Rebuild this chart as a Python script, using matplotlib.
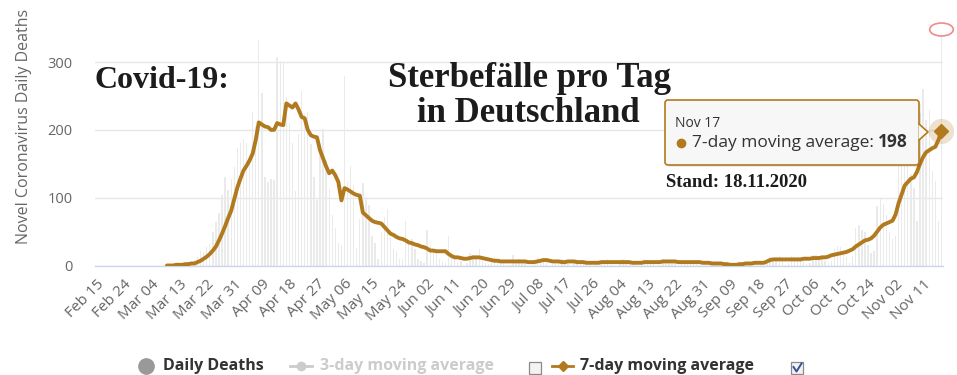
import numpy as np
import pandas as pd
import matplotlib.pyplot as plt
from matplotlib.patches import FancyBboxPatch, Polygon, Rectangle
from matplotlib.path import Path
from matplotlib.transforms import Affine2D

# --------------------------
# Data (Germany, Feb 15 - Nov 17 2020)
# --------------------------
dates = pd.date_range("2020-02-15", "2020-11-17")

# Feb 15 - Mar 8: no deaths
lead_zeros = [0] * 23

# daily deaths, one row per week starting Monday Mar 9
daily_rows = [
    [2, 0, 1, 1, 3, 2, 4],
    [4, 3, 8, 12, 21, 20, 28],
    [31, 49, 64, 77, 104, 130, 112],
    [128, 145, 174, 180, 186, 180, 162],
    [226, 206, 333, 254, 130, 123, 128],
    [126, 307, 301, 300, 248, 210, 181],
    [110, 194, 258, 224, 227, 179, 131],
    [97, 163, 202, 156, 113, 74, 56],
    [33, 30, 280, 123, 147, 118, 26],
    [68, 121, 101, 89, 44, 33, 10],
    [50, 71, 83, 42, 25, 21, 10],
    [10, 66, 33, 39, 24, 10, 7],
    [3, 52, 30, 25, 25, 10, 5],
    [4, 44, 15, 10, 5, 6, 0],
    [3, 19, 15, 12, 25, 6, 3],
    [2, 10, 12, 8, 6, 3, 0],
    [1, 15, 8, 10, 5, 3, 0],
    [1, 10, 12, 8, 5, 3, 0],
    [2, 8, 7, 10, 4, 2, 0],
    [3, 8, 6, 5, 4, 2, 0],
    [1, 8, 7, 6, 9, 1, 0],
    [0, 8, 9, 4, 4, 2, 1],
    [0, 4, 9, 8, 6, 2, 0],
    [1, 9, 6, 4, 8, 3, 0],
    [2, 7, 5, 7, 5, 3, 1],
    [0, 7, 4, 3, 4, 2, 0],
    [0, 2, 1, 2, 2, 1, 0],
    [1, 5, 4, 7, 4, 2, 0],
    [4, 12, 11, 13, 14, 8, 1],
    [3, 14, 12, 13, 12, 6, 2],
    [4, 16, 15, 14, 16, 7, 3],
    [6, 24, 29, 27, 21, 13, 4],
    [14, 56, 60, 53, 49, 30, 18],
    [22, 88, 98, 90, 75, 50, 39],
    [44, 178, 170, 146, 158, 135, 114],
    [65, 225, 260, 215, 230, 140, 125],
    [66, 349],
]

# 7-day moving average as drawn, same weekly rows
ma_rows = [
    [0, 0, 0, 1, 1, 1, 2],
    [2, 3, 3, 5, 7, 10, 13],
    [17, 22, 28, 37, 47, 58, 70],
    [81, 98, 115, 128, 140, 147, 155],
    [165, 185, 211, 208, 205, 204, 200],
    [200, 210, 208, 207, 239, 236, 233],
    [239, 230, 219, 217, 200, 192, 190],
    [189, 170, 158, 146, 136, 140, 133],
    [123, 96, 114, 112, 109, 106, 104],
    [103, 78, 74, 70, 66, 64, 63],
    [62, 57, 52, 47, 45, 42, 40],
    [39, 37, 34, 33, 31, 30, 28],
    [27, 25, 22, 22, 21, 21, 21],
    [21, 17, 14, 12, 12, 11, 10],
    [10, 11, 12, 12, 12, 11, 10],
    [9, 8, 7, 7, 6, 6, 6],
    [6, 6, 6, 6, 6, 6, 5],
    [5, 5, 6, 7, 8, 8, 7],
    [6, 6, 6, 5, 5, 6, 6],
    [6, 5, 5, 5, 4, 4, 4],
    [4, 4, 5, 5, 5, 5, 5],
    [5, 5, 5, 5, 5, 4, 4],
    [4, 4, 5, 5, 5, 5, 5],
    [5, 6, 6, 6, 6, 6, 5],
    [5, 5, 5, 5, 5, 5, 5],
    [4, 4, 4, 3, 3, 3, 3],
    [2, 2, 1, 1, 1, 2, 2],
    [3, 3, 3, 4, 4, 4, 4],
    [6, 8, 9, 9, 9, 9, 9],
    [9, 9, 9, 9, 9, 10, 10],
    [10, 11, 11, 11, 12, 12, 13],
    [15, 16, 17, 18, 19, 20, 22],
    [24, 28, 31, 34, 37, 38, 40],
    [44, 50, 56, 60, 62, 64, 66],
    [75, 92, 105, 118, 123, 128, 130],
    [138, 150, 160, 167, 170, 173, 175],
    [185, 198],
]

daily_deaths = lead_zeros + [v for row in daily_rows for v in row]
ma_7day = [np.nan] * len(lead_zeros) + [v for row in ma_rows for v in row]

tick_labels = [
    "Feb 15", "Feb 24", "Mar 04", "Mar 13", "Mar 22", "Mar 31", "Apr 09",
    "Apr 18", "Apr 27", "May 06", "May 15", "May 24", "Jun 02", "Jun 11",
    "Jun 20", "Jun 29", "Jul 08", "Jul 17", "Jul 26", "Aug 04", "Aug 13",
    "Aug 22", "Aug 31", "Sep 09", "Sep 18", "Sep 27", "Oct 06", "Oct 15",
    "Oct 24", "Nov 02", "Nov 11",
]
y_ticks = [0, 100, 200, 300]

x = np.arange(len(dates))
date_names = list(dates.strftime("%b %d"))
tick_pos = [date_names.index(t) for t in tick_labels]

brown = "#B27A1E"
sans = ["Open Sans", "DejaVu Sans"]
serif = ["Liberation Serif", "DejaVu Serif"]

# --------------------------
# Figure
# --------------------------
W, H = 957, 375
fig = plt.figure(figsize=(W / 100, H / 100), dpi=100)
fig.patch.set_facecolor("white")

ax = fig.add_axes([95 / W, 109.5 / H, 848 / W, 265.5 / H])
ax.set_facecolor("none")

ax.bar(x, daily_deaths, width=0.45, color="#eaeaea", zorder=1)
ax.plot(x, ma_7day, color=brown, lw=2.8, zorder=3,
        solid_capstyle="round", solid_joinstyle="round")

# hovered point
ax.scatter(x[-1], ma_7day[-1], s=330, color=brown, alpha=0.22, lw=0,
           zorder=4, clip_on=False)
ax.plot(x[-1], ma_7day[-1], marker="D", ms=7.5, color=brown, zorder=5,
        clip_on=False)

ellipse = Path.unit_circle().transformed(Affine2D().scale(1.0, 0.55))
ax.plot(x[-1], daily_deaths[-1], marker=ellipse, ms=17, mfc="white",
        mec="#f08a8a", mew=1.2, zorder=6, clip_on=False)

ax.set_xlim(-0.5, len(x) - 0.5)
ax.set_ylim(0, 391.5)

ax.set_yticks(y_ticks)
ax.set_yticklabels([str(v) for v in y_ticks], family=sans, fontsize=10.5,
                   color="#666666")
ax.set_xticks(tick_pos)
ax.set_xticklabels(tick_labels, family=sans, fontsize=11, color="#666666",
                   rotation=45, ha="right", rotation_mode="anchor")
ax.tick_params(axis="y", length=0, pad=16)
ax.tick_params(axis="x", length=0, pad=8)

ax.grid(axis="y", color="#e6e6e6", lw=1, zorder=0)
ax.set_axisbelow(True)
for s in ["top", "right", "left"]:
    ax.spines[s].set_visible(False)
ax.spines["bottom"].set_color("#ccd6eb")
ax.spines["bottom"].set_linewidth(1)

# --------------------------
# Overlay in pixel coordinates
# --------------------------
ov = fig.add_axes([0, 0, 1, 1])
ov.set_xlim(0, W)
ov.set_ylim(H, 0)
ov.axis("off")
ov.patch.set_alpha(0)

ov.text(24, 126, "Novel Coronavirus Daily Deaths", rotation=90, family=sans,
        fontsize=11.5, color="#666666", ha="center", va="center")

ov.text(95, 88, "Covid-19:", family=serif, weight="bold", fontsize=23,
        color="#1c1c1c", ha="left", va="baseline")
ov.text(529, 87, "Sterbefälle pro Tag", family=serif, weight="bold",
        fontsize=25, color="#1c1c1c", ha="center", va="baseline")
ov.text(528, 122, "in Deutschland", family=serif, weight="bold",
        fontsize=25, color="#1c1c1c", ha="center", va="baseline")
ov.text(666, 187, "Stand: 18.11.2020", family=serif, weight="bold",
        fontsize=13.5, color="#1c1c1c", ha="left", va="baseline")

# tooltip
shadow = FancyBboxPatch((667, 102), 254, 65, boxstyle="round,pad=0,rounding_size=3",
                        fc="#000000", ec="none", alpha=0.08)
ov.add_patch(shadow)
box = FancyBboxPatch((665, 100), 254, 65, boxstyle="round,pad=0,rounding_size=3",
                     fc="#f7f7f7", ec=brown, lw=1.2)
ov.add_patch(box)
ov.add_patch(Polygon([(918.5, 124), (928, 132), (918.5, 140)], closed=True,
                     fc="#f7f7f7", ec="none", zorder=3))
ov.plot([919, 928, 919], [124, 132, 140], color=brown, lw=1.2, zorder=4)
ov.text(675, 127, "Nov 17", family=sans, fontsize=10, color="#333333",
        va="baseline")
ov.plot(681, 142.5, "o", ms=6, color=brown)
ov.text(692, 147, "7-day moving average: ", family=sans, fontsize=12.5,
        color="#333333", va="baseline")
ov.text(908, 147, "198", family=sans, fontsize=12.5, weight="bold",
        color="#333333", va="baseline", ha="right")

# legend
ov.plot(146, 366, "o", ms=11, color="#999999")
ov.text(163, 366, "Daily Deaths", family=sans, weight="bold", fontsize=11.5,
        color="#333333", va="center")
ov.plot([290, 312], [366, 366], color="#cccccc", lw=2)
ov.plot(301, 366, "o", ms=6, color="#cccccc")
ov.text(320, 366, "3-day moving average", family=sans, weight="bold",
        fontsize=11.5, color="#cccccc", va="center")
ov.plot([552, 573], [366, 366], color=brown, lw=2)
ov.plot(562.5, 366, "D", ms=5.5, color=brown)
ov.text(580, 366, "7-day moving average", family=sans, weight="bold",
        fontsize=11.5, color="#333333", va="center")

for cx in [529, 791]:
    ov.add_patch(Rectangle((cx, 362), 12, 12, fc="#f3f3f3", ec="#8a8a8a", lw=0.9))
ov.plot([793.5, 796.5, 801.5], [367, 371.5, 363.5], color="#3a4f9a", lw=1.4)

fig.savefig("out.png", dpi=100, facecolor="white")
